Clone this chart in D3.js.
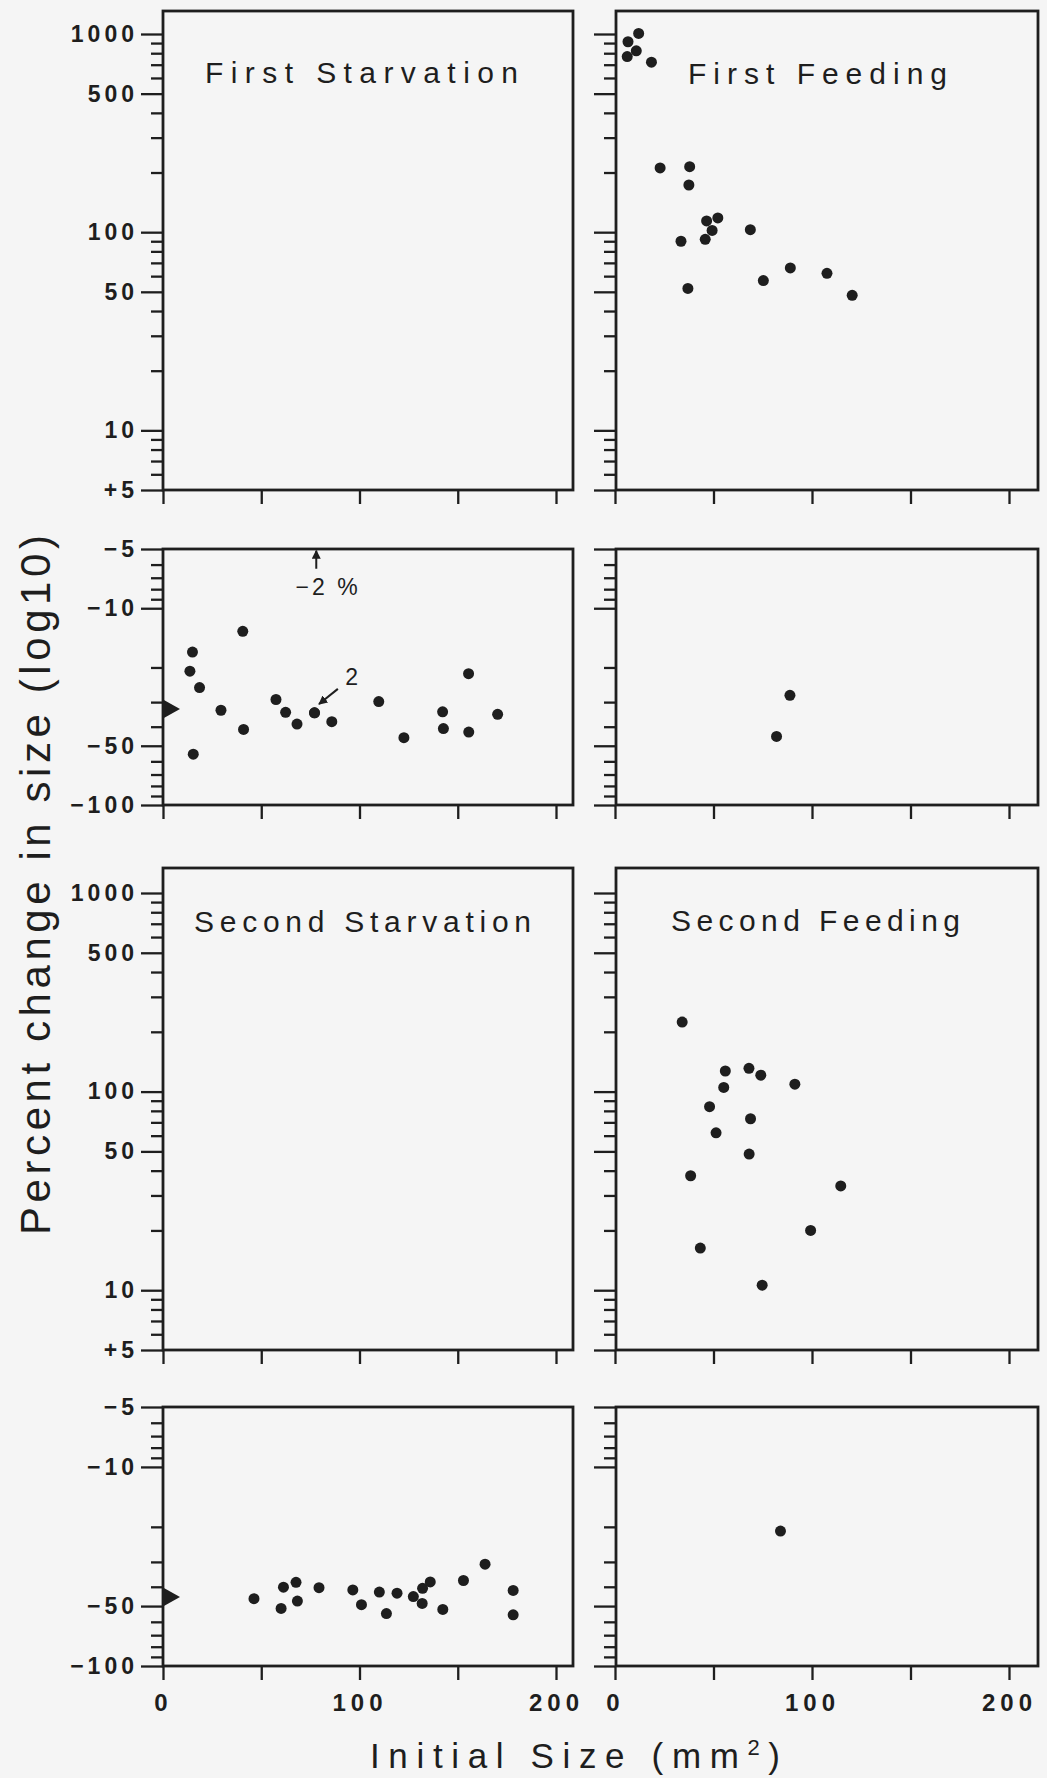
<!DOCTYPE html>
<html>
  <head>
    <meta charset="utf-8" />
    <style>
      body {
        margin: 0;
        background: #f5f5f5;
      }
      svg {
        display: block;
      }
      .frame {
        fill: none;
        stroke: #1e1e1e;
        stroke-width: 2.8;
      }
      .axis path.domain {
        display: none;
      }
      .axis line {
        stroke: #1e1e1e;
        stroke-width: 2.3;
      }
      text {
        font-family: "Liberation Sans", Arial, sans-serif;
        fill: #1e1e1e;
      }
    </style>
  </head>
  <body>
    <svg width="1047" height="1778"></svg>

    <script src="https://cdn.jsdelivr.net/npm/d3@7"></script>
    <script>
      // initial size (mm2) and percent change in size
      let firstFeedingX = [6.6, 12.0, 10.8, 6.2, 18.5, 22.9, 37.9, 37.5, 46.5, 52.2, 49.3, 45.8, 33.5, 68.7, 37.0, 75.3, 89.0, 107.6, 120.4];
      let firstFeedingY = [914, 1007, 822, 769, 721, 211, 214, 173, 114, 118, 102, 92, 90, 103, 52, 57, 66, 62, 48];

      // the point at 77 stands for two animals ("2")
      let firstStarvationX = [15.0, 13.7, 18.6, 15.4, 29.5, 40.6, 41.0, 57.5, 62.4, 68.2, 77.1, 77.1, 85.9, 109.8, 122.6, 142.3, 142.7, 155.5, 155.6, 170.3];
      let firstStarvationY = [-16.7, -20.9, -25.3, -55.2, -33.0, -13.1, -41.3, -29.1, -33.8, -38.8, -34.0, -34.0, -37.7, -29.8, -45.5, -33.6, -40.9, -21.5, -42.6, -34.6];

      let firstFeedingLossX = [88.8, 82.0];
      let firstFeedingLossY = [-27.7, -44.8];

      let secondFeedingX = [34.1, 56.0, 68.0, 74.0, 91.3, 55.2, 48.0, 68.8, 51.3, 68.1, 38.4, 114.6, 99.3, 43.3, 74.7];
      let secondFeedingY = [224, 127, 131, 121, 109, 105, 84, 73, 62, 48.5, 37.7, 33.5, 20, 16.3, 10.6];

      let secondStarvationX = [46.3, 61.3, 60.1, 67.7, 68.4, 79.4, 96.6, 101.0, 110.1, 113.7, 119.1, 127.4, 132.1, 136.0, 131.9, 142.4, 152.9, 163.9, 178.2, 178.2];
      let secondStarvationY = [-45.9, -40.2, -51.4, -38.0, -47.2, -40.4, -41.5, -49.2, -42.5, -54.5, -43.1, -44.8, -40.7, -37.8, -48.5, -52.0, -37.2, -30.8, -41.7, -55.3];

      let secondFeedingLossX = [84];
      let secondFeedingLossY = [-21];

      // mean change (the black triangles on the axis)
      let meanLoss = [-32.5, -45];

      // ticks
      let xTicks = [0, 50, 100, 150, 200];
      let xLabels = [0, 100, 200];
      let majorGain = [5, 10, 50, 100, 500, 1000];
      let minorGain = [6, 7, 8, 9, 20, 30, 40, 60, 70, 80, 90, 200, 300, 400, 600, 700, 800, 900];
      let majorLoss = [5, 10, 50, 100];
      let minorLoss = [6, 7, 8, 9, 20, 30, 40, 60, 70, 80, 90];

      let panels = [
        { title: "First Starvation", col: 0, row: 0, x: [], y: [], tx: 42, tw: 313, ty: 83 },
        { title: "First Feeding", col: 1, row: 0, x: firstFeedingX, y: firstFeedingY, tx: 72, tw: 259, ty: 84 },
        { col: 0, row: 1, x: firstStarvationX, y: firstStarvationY, mean: meanLoss[0] },
        { col: 1, row: 1, x: firstFeedingLossX, y: firstFeedingLossY },
        { title: "Second Starvation", col: 0, row: 2, x: [], y: [], tx: 31, tw: 337, ty: 932 },
        { title: "Second Feeding", col: 1, row: 2, x: secondFeedingX, y: secondFeedingY, tx: 55, tw: 289, ty: 931 },
        { col: 0, row: 3, x: secondStarvationX, y: secondStarvationY, mean: meanLoss[1] },
        { col: 1, row: 3, x: secondFeedingLossX, y: secondFeedingLossY },
      ];

      let cols = [
        { left: 163, right: 573, zero: 163, two: 556 },
        { left: 616, right: 1038, zero: 615, two: 1009 },
      ];
      let rows = [
        { top: 11, bottom: 490, gain: true, range: [490, 34] },
        { top: 549, bottom: 805, gain: false, range: [549, 805] },
        { top: 868, bottom: 1350, gain: true, range: [1350, 893] },
        { top: 1407, bottom: 1666, gain: false, range: [1407, 1666] },
      ];

      let ink = "#1e1e1e";
      let svg = d3.select("svg");

      svg
        .append("defs")
        .append("marker")
        .attr("id", "head")
        .attr("viewBox", "0 0 10 10")
        .attr("refX", 9)
        .attr("refY", 5)
        .attr("markerWidth", 9)
        .attr("markerHeight", 9)
        .attr("markerUnits", "userSpaceOnUse")
        .attr("orient", "auto")
        .append("path")
        .attr("d", "M0,0L10,5L0,10Z")
        .attr("fill", ink);

      let gainFormat = (d) => (d === 5 ? "+5" : String(d));
      let lossFormat = (d) => "\u2212" + d;

      panels.forEach((p) => {
        let c = cols[p.col],
          r = rows[p.row];
        let x = d3.scaleLinear().domain([0, 200]).range([c.zero, c.two]);
        let y = d3
          .scaleLog()
          .domain([5, r.gain ? 1000 : 100])
          .range(r.range);
        let g = svg.append("g");

        // minor y ticks
        g.append("g")
          .attr("class", "axis")
          .attr("transform", `translate(${c.left},0)`)
          .call(
            d3
              .axisLeft(y)
              .tickValues(r.gain ? minorGain : minorLoss)
              .tickSize(12)
              .tickFormat("")
          );

        // major y ticks, labelled on the left column only
        g.append("g")
          .attr("class", "axis")
          .attr("transform", `translate(${c.left},0)`)
          .call(
            d3
              .axisLeft(y)
              .tickValues(r.gain ? majorGain : majorLoss)
              .tickSize(22)
              .tickPadding(3)
              .tickFormat(p.col === 0 ? (r.gain ? gainFormat : lossFormat) : () => "")
          )
          .selectAll("text")
          .attr("font-size", 23)
          .attr("font-weight", "bold")
          .attr("letter-spacing", 4);

        // x ticks
        let last = p.row === 3;
        g.append("g")
          .attr("class", "axis")
          .attr("transform", `translate(0,${r.bottom})`)
          .call(
            d3
              .axisBottom(x)
              .tickValues(xTicks)
              .tickSize(14)
              .tickPadding(14)
              .tickFormat((d) => (last && xLabels.includes(d) ? String(d) : ""))
          )
          .selectAll("text")
          .attr("font-size", 24)
          .attr("font-weight", "bold")
          .attr("letter-spacing", 5);

        g.append("rect")
          .attr("class", "frame")
          .attr("x", c.left)
          .attr("y", r.top)
          .attr("width", c.right - c.left)
          .attr("height", r.bottom - r.top);

        if (p.title) {
          g.append("text")
            .attr("x", c.left + p.tx)
            .attr("y", p.ty)
            .attr("font-size", 30)
            .attr("textLength", p.tw)
            .attr("lengthAdjust", "spacing")
            .text(p.title);
        }

        g.append("g")
          .selectAll("circle")
          .data(d3.zip(p.x, p.y))
          .enter()
          .append("circle")
          .attr("cx", (d) => x(d[0]))
          .attr("cy", (d) => y(Math.abs(d[1])))
          .attr("r", 5.5)
          .attr("fill", ink);

        if (p.mean !== undefined) {
          let ym = y(Math.abs(p.mean));
          g.append("path")
            .attr("d", `M${c.left},${ym - 9.5}L${c.left + 17},${ym}L${c.left},${ym + 9.5}Z`)
            .attr("fill", ink);
        }

        // annotations on the first starvation losses
        if (p.row === 1 && p.col === 0) {
          g.append("line")
            .attr("x1", x(78))
            .attr("x2", x(78))
            .attr("y1", y(6.3))
            .attr("y2", y(5.1))
            .attr("stroke", ink)
            .attr("stroke-width", 2)
            .attr("marker-end", "url(#head)");
          g.append("text")
            .attr("x", x(84))
            .attr("y", y(8.6))
            .attr("text-anchor", "middle")
            .attr("font-size", 23)
            .attr("letter-spacing", 3)
            .text("\u22122 %");
          g.append("line")
            .attr("x1", x(89))
            .attr("y1", y(25.7))
            .attr("x2", x(79.4))
            .attr("y2", y(30.7))
            .attr("stroke", ink)
            .attr("stroke-width", 2)
            .attr("marker-end", "url(#head)");
          g.append("text")
            .attr("x", x(96))
            .attr("y", y(24.5))
            .attr("text-anchor", "middle")
            .attr("font-size", 23)
            .text("2");
        }
      });

      // axis titles
      svg
        .append("text")
        .attr("transform", "translate(50,885) rotate(-90)")
        .attr("text-anchor", "middle")
        .attr("font-size", 42)
        .attr("textLength", 700)
        .attr("lengthAdjust", "spacing")
        .text("Percent change in size (log10)");

      let xt = svg
        .append("text")
        .attr("x", 575)
        .attr("y", 1768)
        .attr("text-anchor", "middle")
        .attr("font-size", 35)
        .attr("textLength", 410)
        .attr("lengthAdjust", "spacing");
      xt.append("tspan").text("Initial Size (mm");
      xt.append("tspan").attr("dy", -13).attr("font-size", 22).text("2");
      xt.append("tspan").attr("dy", 13).text(")");
    </script>
  </body>
</html>
